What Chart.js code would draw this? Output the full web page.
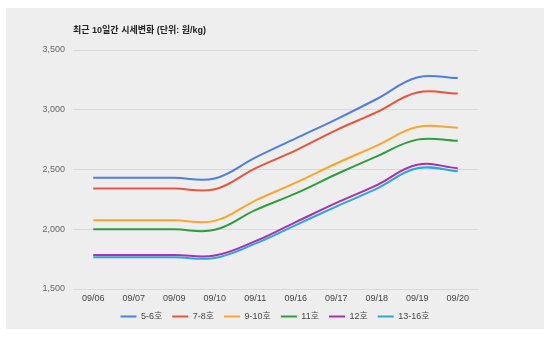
<!DOCTYPE html>
<html>
<head>
<meta charset="utf-8">
<script src="https://cdn.jsdelivr.net/npm/chart.js@4/dist/chart.umd.min.js"></script>
<style>
  body { margin: 0; background: #fff; width: 550px; height: 338px; overflow: hidden; }
  #panel { position: absolute; left: 6px; top: 8px; width: 538px; height: 321px; background: #eeeeee; }
  #title { position: absolute; left: 67px; top: 15px; font: bold 9px "Liberation Sans", Arial, "Noto Sans CJK KR", sans-serif; color: #222; white-space: nowrap; }
  #wrap { position: absolute; left: 0; top: 0; width: 538px; height: 321px; }
</style>
</head>
<body>
<div id="panel">
  <div id="wrap"><canvas id="priceChart"></canvas></div>
  <div id="title">최근 10일간 시세변화 (단위: 원/kg)</div>
</div>
<script>
// 날짜 (x축)
var dates = ["09/06", "09/07", "09/09", "09/10", "09/11", "09/16", "09/17", "09/18", "09/19", "09/20"];

// 호수별 시세 (원/kg)
var size56 = [2430, 2430, 2430, 2425, 2600, 2760, 2920, 3090, 3270, 3265];
var size78 = [2340, 2340, 2340, 2335, 2510, 2660, 2830, 2980, 3145, 3135];
var size910 = [2075, 2075, 2075, 2070, 2240, 2390, 2550, 2700, 2855, 2850];
var size11 = [2000, 2000, 2000, 1995, 2160, 2300, 2460, 2610, 2750, 2740];
var size12 = [1785, 1785, 1785, 1780, 1900, 2060, 2220, 2370, 2540, 2510];
var size1316 = [1765, 1765, 1765, 1760, 1880, 2035, 2190, 2340, 2510, 2485];

var seriesNames = ["5-6호", "7-8호", "9-10호", "11호", "12호", "13-16호"];
var seriesData = [size56, size78, size910, size11, size12, size1316];
var seriesColors = ["#4f7fdf", "#e8553a", "#ffa62b", "#2e9e3a", "#a730b5", "#2aa8d8"];

// y축 눈금
var yMin = 1500, yMax = 3500, yStep = 500;

var FONT = "'Liberation Sans', Arial, 'Noto Sans CJK KR', sans-serif";

var datasets = [];
for (var i = 0; i < seriesNames.length; i++) {
	datasets.push({
		label : seriesNames[i],
		data : seriesData[i],
		borderColor : seriesColors[i],
		backgroundColor : seriesColors[i],
		borderWidth : 2,
		pointRadius : 0,
		tension : 0.4,
		fill : false
	});
}

var ctx = document.getElementById("priceChart");
new Chart(ctx, {
	type : 'line',
	data : {
		labels : dates,
		datasets : datasets
	},
	options : {
		responsive : true,
		maintainAspectRatio : false,
		animation : false,
		layout : {
			padding : { left : 0, right : 0, top : 42, bottom : -2 }
		},
		plugins : {
			legend : {
				position : 'bottom',
				labels : {
					usePointStyle : true,
					pointStyle : 'line',
					pointStyleWidth : 16,
					boxWidth : 16,
					padding : 10,
					color : '#444',
					font : { family : FONT, size : 9 }
				}
			},
			tooltip : { enabled : false }
		},
		scales : {
			x : {
				offset : true,
				afterFit : function(scale) { scale.height = 13; },
				grid : { display : false, drawTicks : false },
				border : { display : true, color : '#d9d9d9', width : 1 },
				ticks : {
					color : '#444',
					padding : 4,
					maxRotation : 0,
					autoSkip : false,
					font : { family : FONT, size : 9 }
				}
			},
			y : {
				min : yMin,
				max : yMax,
				afterFit : function(scale) { scale.width = 67; },
				grid : { color : '#d9d9d9', drawTicks : false },
				border : { display : false },
				ticks : {
					stepSize : yStep,
					padding : 8,
					color : '#666',
					font : { family : FONT, size : 9 },
					callback : function(v) { return v.toLocaleString('en-US'); }
				}
			},
			// 오른쪽 여백용 빈 축
			yRight : {
				position : 'right',
				display : true,
				afterFit : function(scale) { scale.width = 66; },
				grid : { display : false, drawTicks : false },
				border : { display : false },
				ticks : { display : false }
			}
		}
	}
});
</script>
</body>
</html>
